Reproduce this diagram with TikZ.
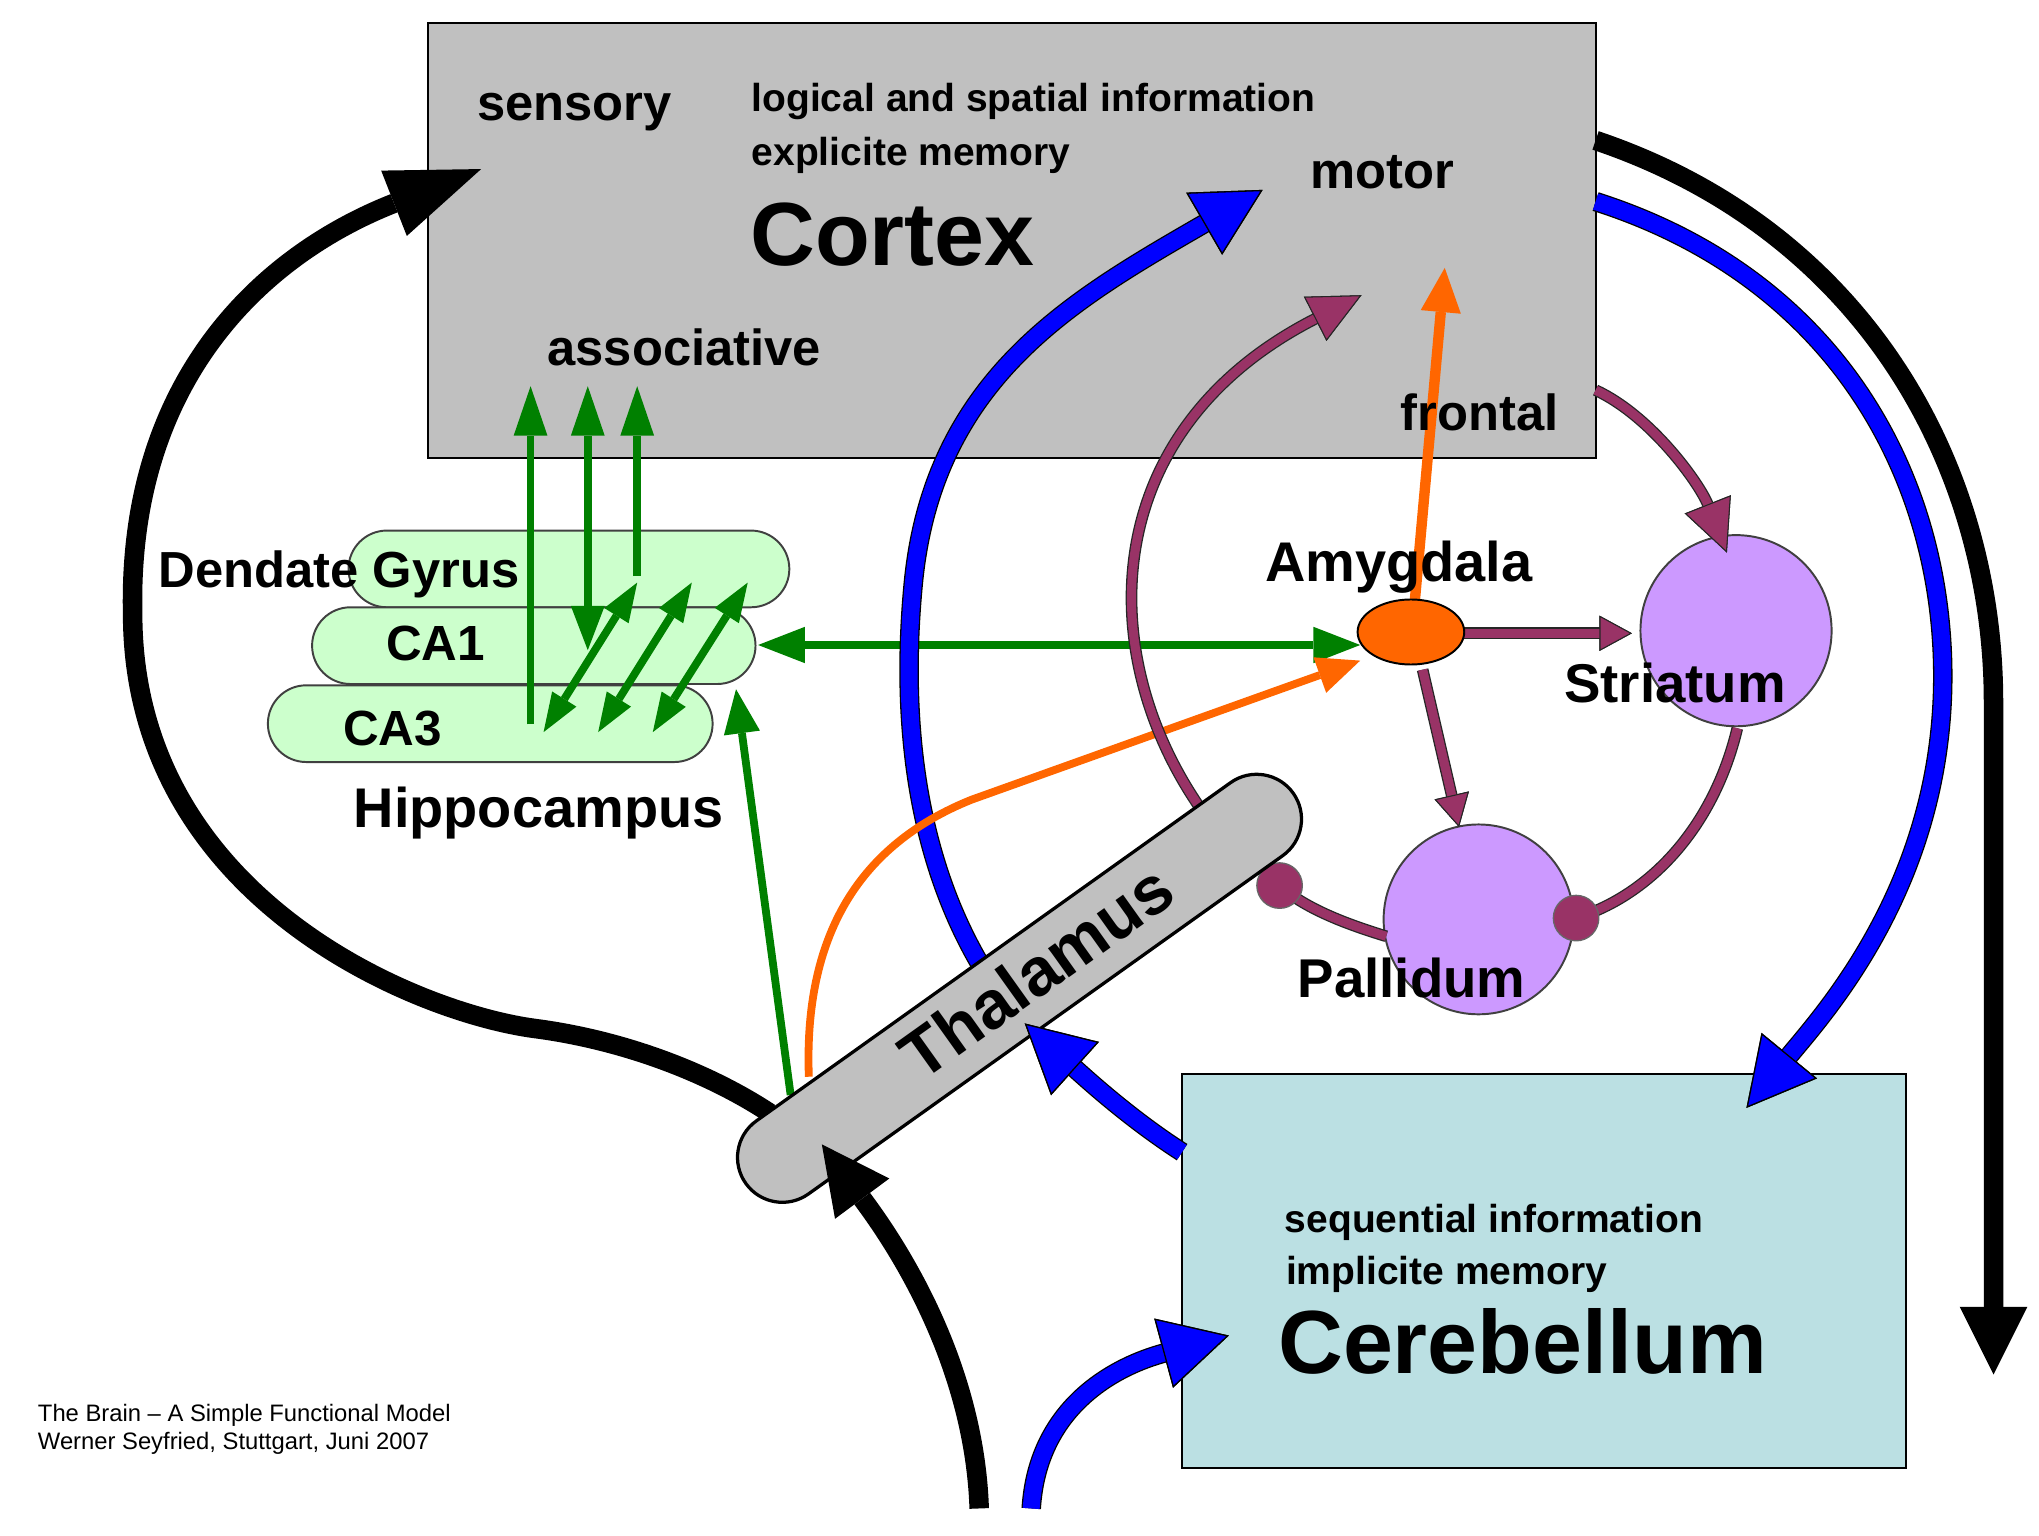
\documentclass[tikz,border=0pt]{standalone}
\usepackage{fontspec}
\setmainfont{Liberation Sans}
\usetikzlibrary{arrows.meta,shapes.misc,shapes.geometric}
\definecolor{cortexgray}{HTML}{C0C0C0}
\definecolor{cerebcyan}{HTML}{BBE0E3}
\definecolor{pillgreen}{HTML}{CCFFCC}
\definecolor{grn}{HTML}{008000}
\definecolor{blu}{HTML}{0000FF}
\definecolor{org}{HTML}{FF6600}
\definecolor{pur}{HTML}{993366}
\definecolor{lilac}{HTML}{CC99FF}
\begin{document}
\begin{tikzpicture}[x=1pt,y=-1pt,
  lbl/.style={anchor=base west, inner sep=0pt, outer sep=0pt, font=\bfseries\fontsize{39}{39}\selectfont},
  lblL/.style={lbl, font=\bfseries\fontsize{43}{43}\selectfont},
  lblS/.style={lbl, font=\bfseries\fontsize{30}{30}\selectfont},
  lblB/.style={lbl, font=\bfseries\fontsize{69}{69}\selectfont},
  foot/.style={anchor=base west, inner sep=0pt, font=\fontsize{18.3}{18.3}\selectfont},
  box/.style={rectangle, draw=black, line width=1.5pt, inner sep=0pt, outer sep=0pt},
  pill/.style={rounded rectangle, draw=black!75, line width=1.5pt, fill=pillgreen, minimum height=59pt, inner sep=0pt, outer sep=0pt},
  region/.style={circle, draw=black!75, line width=1.5pt, fill=lilac, minimum size=147pt, inner sep=0pt, outer sep=0pt},
  ball/.style={circle, draw=black!60, line width=1pt, fill=pur, minimum size=35pt, inner sep=0pt, outer sep=0pt},
  gline/.style={draw=grn, line width=6pt},
  bline/.style={draw=blu, line width=13pt, preaction={draw=black, line width=15pt}},
  kline/.style={draw=black, line width=15pt},
  pline/.style={draw=pur, line width=7pt, preaction={draw=black!85, line width=9pt}},
  oline/.style={draw=org, line width=6pt},
  gup/.style={arrows={-Triangle[length=38pt,width=26pt,line width=0pt]}},
  gup2/.style={arrows={Triangle[length=34pt,width=26pt,line width=0pt]-Triangle[length=38pt,width=26pt,line width=0pt]}},
  gdia/.style={arrows={Triangle[length=30pt,width=22pt,line width=0pt]-Triangle[length=30pt,width=22pt,line width=0pt]}},
  ghor/.style={arrows={Triangle[length=36pt,width=28pt,line width=0pt]-Triangle[length=36pt,width=28pt,line width=0pt]}},
  gthal/.style={arrows={-Triangle[length=34pt,width=28pt,line width=0pt]}},
  bhead/.style={arrows={-Triangle[length=52pt,width=55pt,line width=1pt,color=black,fill=blu]}},
  khead/.style={arrows={-Triangle[length=52pt,width=52pt,line width=0pt]}},
  klong/.style={arrows={-Triangle[length=72pt,width=54pt,line width=0pt]}},
  pbig/.style={arrows={-Triangle[length=40pt,width=38pt,line width=0.8pt,color=black!85,fill=pur]}},
  psmall/.style={arrows={-Triangle[length=25pt,width=27pt,line width=0.8pt,color=black!85,fill=pur]}},
  ohead/.style={arrows={-Triangle[length=34pt,width=31pt,line width=0pt]}},
  ohead2/.style={arrows={-Triangle[length=33pt,width=29pt,line width=0pt]}}
]
\useasboundingbox (0,0) rectangle (1568,1181);

% main boxes
\node[box, fill=cortexgray, minimum width=898pt, minimum height=334pt] (cortex) at (778,185) {};
\node[box, fill=cerebcyan, minimum width=557pt, minimum height=303pt] (cereb) at (1187.5,977.5) {};

% hippocampus pills
\node[pill, minimum width=339pt] (dg) at (437.5,437.5) {};
\node[pill, minimum width=341pt] (ca1) at (410.5,496.5) {};
\node[pill, minimum width=342pt] (ca3) at (377,556.5) {};

% striatum, pallidum
\node[region] (striatum) at (1335,485) {};
\node[region, minimum size=146pt] (pallidum) at (1137,707) {};

% coordinates
\coordinate (gA1) at (408,557); \coordinate (gA2) at (408,297);
\coordinate (gB1) at (452,500); \coordinate (gB2) at (452,297);
\coordinate (gC1) at (490,443); \coordinate (gC2) at (490,297);
\coordinate (gD1) at (418,563); \coordinate (gD2) at (490,448);
\coordinate (gE1) at (460,563); \coordinate (gE2) at (532,448);
\coordinate (gF1) at (502,563); \coordinate (gF2) at (575,448);
\coordinate (gH1) at (583,496); \coordinate (gH2) at (1046,496);
\coordinate (gT1) at (608,842); \coordinate (gT2) at (566,530);

% green connections
\draw[gline, gup] (gA1) -- (gA2);
\draw[gline, gup2] (gB1) -- (gB2);
\draw[gline, gup] (gC1) -- (gC2);
\draw[gline, gdia] (gD1) -- (gD2);
\draw[gline, gdia] (gE1) -- (gE2);
\draw[gline, gdia] (gF1) -- (gF2);
\draw[gline, ghor] (gH1) -- (gH2);
\draw[gline, gthal] (gT1) -- (gT2);

% black connectors
\coordinate (kS1) at (592,856);
\coordinate (kSens) at (370,130);
\draw[kline, klong] (kS1) .. controls (545,825) and (480,800) .. (412,791)
  .. controls (320,779) and (102,690) .. (102,472)
  .. controls (98,292) and (202,196) .. (kSens);
\coordinate (kR1) at (1227,108);
\coordinate (kR2) at (1533,1057);
\draw[kline, khead] (kR1) .. controls (1435,178) and (1533,360) .. (1533,540) -- (kR2);

% blue connectors
\coordinate (bM1) at (754,742);
\coordinate (bMotor) at (971,146);
\draw[bline, bhead] (bM1) .. controls (707,662) and (692,562) .. (702,452)
  .. controls (716,292) and (824,231) .. (bMotor);
\coordinate (bC1) at (1227,155);
\coordinate (bC2) at (1343,852);
\draw[bline, bhead] (bC1) .. controls (1415,215) and (1494,370) .. (1494,520)
  .. controls (1494,680) and (1402,780) .. (bC2);
\coordinate (bIn1) at (793,1160);
\coordinate (bIn2) at (945,1027);
\draw[bline, bhead] (bIn1) .. controls (798,1080) and (860,1050) .. (bIn2);

% orange connectors
\coordinate (oA) at (1088,462);
\coordinate (oF) at (1111,206);
\draw[oline, line width=8pt, ohead] (oA) -- (oF);
\coordinate (oT) at (622,828);
\coordinate (oAm) at (1046,508);
\draw[oline, ohead2] (oT) .. controls (618,720) and (660,650) .. (747,615) -- (oAm);

% purple connectors
\coordinate (pT) at (922,620);
\coordinate (pC) at (1047,227);
\draw[pline, pbig] (pT) .. controls (840,500) and (845,330) .. (pC);
\coordinate (pC2) at (1227,300);
\coordinate (pS) at (1328,425);
\draw[pline, pbig] (pC2) .. controls (1270,320) and (1307,372) .. (pS);
\coordinate (pA1) at (1126,487); \coordinate (pA2) at (1255,487);
\draw[pline, psmall] (pA1) -- (pA2);
\coordinate (pA3) at (1094,515); \coordinate (pA4) at (1122,636);
\draw[pline, psmall] (pA3) -- (pA4);
\coordinate (ballRc) at (1212,706);
\coordinate (ballLc) at (984,681);
\coordinate (pSb) at (1336,560);
\draw[pline] (pSb) .. controls (1318,635) and (1270,688) .. (ballRc);
\coordinate (pPl) at (1066,720);
\draw[pline] (pPl) .. controls (1040,712) and (1005,700) .. (ballLc);
\node[ball] (ballR) at (ballRc) {};
\node[ball] (ballL) at (ballLc) {};

% amygdala
\node[ellipse, draw=black, line width=1.5pt, fill=org, minimum width=82pt, minimum height=50pt, inner sep=0pt] (amygdala) at (1085,486) {};

% thalamus
\node[rounded rectangle, draw=black, line width=2.5pt, fill=cortexgray, minimum width=517pt, minimum height=69pt, inner sep=0pt, rotate=35.5] (thalamus) at (784,760) {};
\node[rotate=35.5, inner sep=0pt, font=\bfseries\fontsize{52}{52}\selectfont] (thallbl) at (797,747) {Thalamus};

% connectors ending on the thalamus
\coordinate (kB1) at (753,1160);
\coordinate (kB2) at (632,880);
\draw[kline, khead] (kB1) .. controls (749,1040) and (681,946) .. (kB2);
\coordinate (bT1) at (909,886);
\coordinate (bT2) at (788,787);
\draw[bline, bhead] (bT1) .. controls (870,861) and (837,831) .. (bT2);

% labels
\node[lbl] (sensory) at (367,93) {sensory};
\node[lblS] (logical) at (578,86) {logical and spatial information};
\node[lblS] (explicit) at (578,127) {explicite memory};
\node[lblB] (cortexlbl) at (577,204) {Cortex};
\node[lbl] (motor) at (1008,145) {motor};
\node[lbl] (assoc) at (421,281) {associative};
\node[lbl] (frontal) at (1077,331) {frontal};
\node[lbl] (dglbl) at (122,452) {Dendate Gyrus};
\node[lbl, font=\bfseries\fontsize{38}{38}\selectfont] (ca1lbl) at (297,508) {CA1};
\node[lbl, font=\bfseries\fontsize{38}{38}\selectfont] (ca3lbl) at (264,573) {CA3};
\node[lblL] (hippo) at (272,636) {Hippocampus};
\node[lblL] (amyglbl) at (973,447) {Amygdala};
\node[lbl, font=\bfseries\fontsize{42}{42}\selectfont] (striatumlbl) at (1203,540) {Striatum};
\node[lbl, font=\bfseries\fontsize{42}{42}\selectfont] (pallidumlbl) at (998,767) {Pallidum};
\node[lblS] (seq) at (988,948) {sequential information};
\node[lblS] (impl) at (989,988) {implicite memory};
\node[lblB] (cereblbl) at (983,1056) {Cerebellum};
\node[foot] (foot1) at (29,1093) {The Brain – A Simple Functional Model};
\node[foot] (foot2) at (29,1115) {Werner Seyfried, Stuttgart, Juni 2007};
\end{tikzpicture}
\end{document}
